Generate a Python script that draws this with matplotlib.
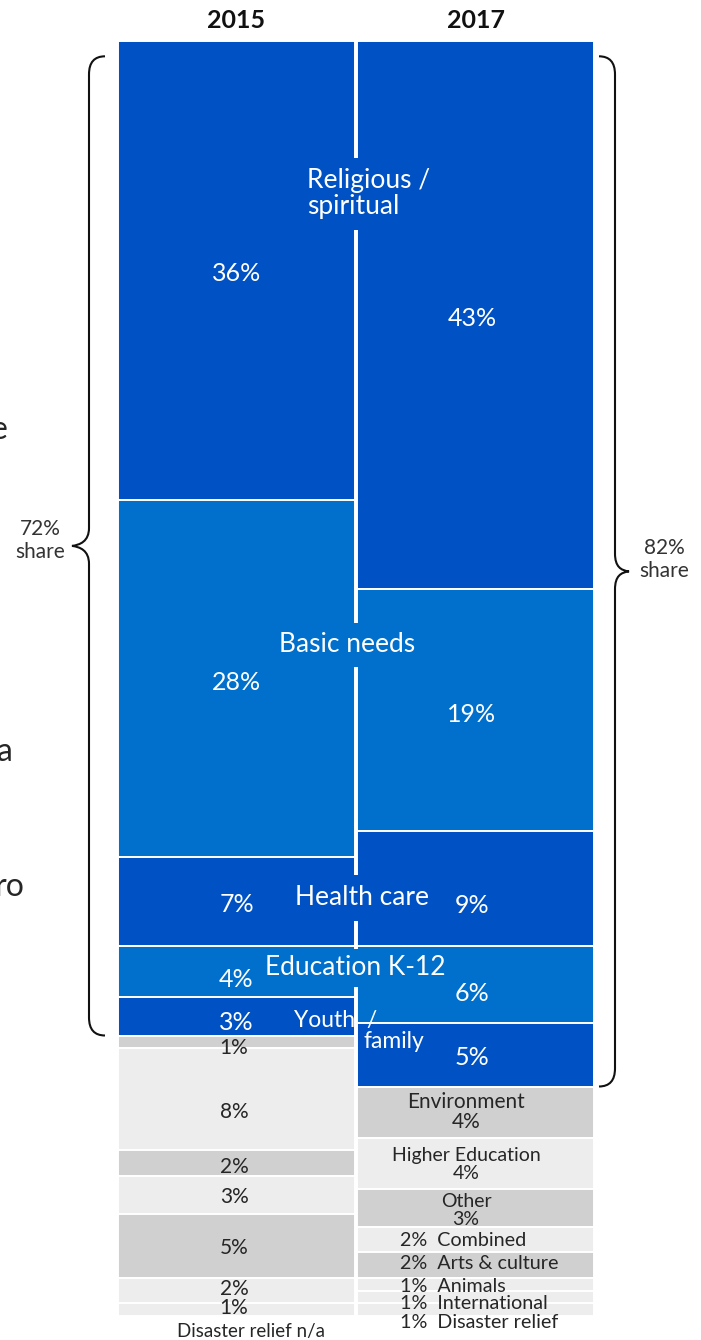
import numpy as np
import matplotlib.pyplot as plt
from matplotlib.path import Path
from matplotlib.patches import PathPatch

plt.rcParams["font.family"] = ["Lato", "DejaVu Sans"]

# data

years = ["2015", "2017"]
causes = ["Religious / spiritual", "Basic needs", "Health care", "Education K-12",
          "Youth / family", "Environment", "Higher Education", "Other", "Combined",
          "Arts & culture", "Animals", "International", "Disaster relief"]
share_2015 = [36, 28, 7, 4, 3, 1, 8, 2, 3, 5, 2, 1, 0]
share_2017 = [43, 19, 9, 6, 5, 4, 4, 3, 2, 2, 1, 1, 1]
top_n = 5
brace_labels = ["72%\nshare", "82%\nshare"]

# style

DARK = "#0052C4"
MID = "#0070CC"
GRAY_D = "#D0D0D0"
GRAY_L = "#EDEDED"
TXT = "#262626"
cause_colors = [DARK, MID, DARK, MID, DARK, GRAY_D, GRAY_L, GRAY_D, GRAY_L,
                GRAY_D, GRAY_L, GRAY_L, GRAY_L]

# small vertical nudges (in %) for the value labels, as placed on the slide
nudge_2015 = [0.25, 0.3, 0.25, 0.6, 0.5, 0.5, 1.0, 0.3, 0.2, 0.2, -0.1, -0.1, 0]
nudge_2017 = [0.25, 0.3, 1.3, 0.7, 0.2, 0, 0.1, 0.2, 0.1, -0.1, 0.15, 0.55, 1.0]

W, H = 701, 1340
sx, sy = 239.0, 12.75      # px per x unit, px per percent
x0px, y0px = 236.5, 41.0   # centre of 2015 bar, top of bars


def px(x, y):
    return (x - x0px) / sx, (y - y0px) / sy


def ypx(v):
    return y0px + v * sy


fig = plt.figure(figsize=(W / 100, H / 100), dpi=100)
ax = fig.add_axes([0, 0, 1, 1])
ax.set_xlim(-x0px / sx, (W - x0px) / sx)
ax.set_ylim((H - y0px) / sy, -y0px / sy)
ax.axis("off")

xs = np.arange(len(years))
all_shares = [share_2015, share_2017]
all_nudges = [nudge_2015, nudge_2017]
for i, shares in enumerate(all_shares):
    shares = np.array(shares, dtype=float)
    bottoms = np.concatenate([[0], np.cumsum(shares)[:-1]])
    keep = shares > 0
    ax.bar(np.full(keep.sum(), xs[i]), shares[keep], bottom=bottoms[keep],
           width=0.9916, color=np.array(cause_colors)[keep],
           edgecolor="white", linewidth=1.4)

# headers
for i, yr in enumerate(years):
    ax.text(xs[i], px(0, 21)[1], yr, ha="center", va="center",
            fontsize=18, fontweight="bold", color="#111111")

# percent labels in blue segments and the 2015 gray ones
for i, shares in enumerate(all_shares):
    cum = np.cumsum(shares)
    for j, v in enumerate(shares):
        mid = cum[j] - v / 2 + all_nudges[i][j]
        if j < top_n:
            ax.text(xs[i] - 0.015 * i, mid, f"{v}%", ha="center", va="center",
                    fontsize=18, color="white")
        elif i == 0 and v > 0:
            ax.text(xs[i] - 0.01, mid, f"{v}%", ha="center", va="center",
                    fontsize=15, color=TXT)

ax.text(*px(251, 1332), "Disaster relief n/a", ha="center", va="center",
        fontsize=13.5, color=TXT)

# 2017 gray labels
cum17 = np.cumsum(share_2017)
for j in range(top_n, len(causes)):
    v = share_2017[j]
    mid = cum17[j] - v / 2 + nudge_2017[j]
    if j < top_n + 3:
        fs = 15 if j == top_n else 14
        ax.text(xs[1] - 0.04, mid, f"{causes[j]}\n{v}%", ha="center", va="center",
                fontsize=fs, color=TXT, linespacing=1.05)
    else:
        ax.text(px(400, 0)[0], mid, f"{v}%  {causes[j]}", ha="left", va="center",
                fontsize=14.2, color=TXT)

# category labels for the top causes
ax.text(*px(307, 194), "Religious /\nspiritual", ha="left", va="center",
        fontsize=19, color="white", linespacing=1.05,
        bbox=dict(boxstyle="square,pad=0.4", fc=DARK, ec="none"))
ax.text(*px(347, 645), "Basic needs", ha="center", va="center",
        fontsize=19, color="white",
        bbox=dict(boxstyle="square,pad=0.35", fc=MID, ec="none"))
ax.text(*px(362, 898), "Health care", ha="center", va="center",
        fontsize=19, color="white",
        bbox=dict(boxstyle="square,pad=0.4", fc=DARK, ec="none"))
ax.text(*px(355, 968), "Education K-12", ha="center", va="center",
        fontsize=19, color="white",
        bbox=dict(boxstyle="square,pad=0.25", fc=MID, ec="none"))
ax.text(*px(294, 1020), "Youth  /", ha="left", va="center",
        fontsize=16.5, color="white")
ax.text(*px(364, 1041), "family", ha="left", va="center",
        fontsize=16.5, color="white")


# braces
def brace(xv, top, bottom, side, d_hook=16, d_tip=17, r=18):
    # side = -1 -> tip points left
    t, b = ypx(top), ypx(bottom)
    m = (t + b) / 2
    xh = xv - side * d_hook
    xt = xv + side * d_tip
    pts = [(xh, t), (xv, t), (xv, t + r),
           (xv, m - r),
           (xv, m - 0.25 * r), (xt - side * 8, m - 1), (xt, m),
           (xt - side * 8, m + 1), (xv, m + 0.25 * r), (xv, m + r),
           (xv, b - r),
           (xv, b), (xh, b)]
    codes = [Path.MOVETO, Path.CURVE3, Path.CURVE3, Path.LINETO,
             Path.CURVE4, Path.CURVE4, Path.CURVE4,
             Path.CURVE4, Path.CURVE4, Path.CURVE4,
             Path.LINETO, Path.CURVE3, Path.CURVE3]
    verts = [px(x, y) for x, y in pts]
    ax.add_patch(PathPatch(Path(verts, codes), fc="none", ec="#111111", lw=1.5))
    return m


top15 = sum(share_2015[:top_n])
top17 = sum(share_2017[:top_n])
m1 = brace(89, 1.2, top15, -1)
m2 = brace(615, 1.2, top17, 1, d_tip=14)
ax.text(*px(40, m1 - 5), brace_labels[0], ha="center", va="center",
        fontsize=15, color="#333333", linespacing=1.2)
ax.text(*px(664, m2 - 12), brace_labels[1], ha="center", va="center",
        fontsize=15, color="#333333", linespacing=1.2)

# text cut off by the left edge of the slide
for s, xr, yy in [("e", 8, 430), ("a", 13, 752), ("ro", 25, 887)]:
    ax.text(*px(xr, yy), s, ha="right", va="center", fontsize=23, color=TXT)

plt.savefig("out.png", dpi=100)
